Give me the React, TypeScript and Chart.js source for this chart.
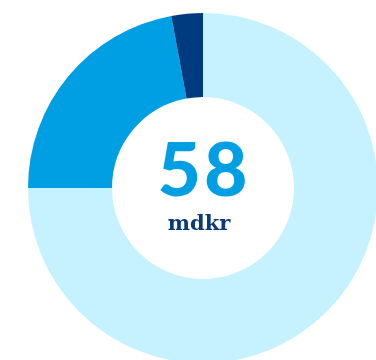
import React, { useEffect, useRef } from "react";
import { Chart, registerables } from "chart.js";

Chart.register(...registerables);

const labels = ["Övrigt", "Andel A", "Andel B"];
const values = [75, 22.1, 2.9];
const colors = ["#c6f1ff", "#009fe3", "#003b80"];
const centerValue = "58";
const centerUnit = "mdkr";

export default function App() {
  const ref = useRef<HTMLCanvasElement | null>(null);
  useEffect(() => {
    if (!ref.current) return;
    const chart = new Chart(ref.current, {
      type: "doughnut",
      data: {
        labels,
        datasets: [
          {
            data: values,
            backgroundColor: colors,
            borderWidth: 0,
            hoverOffset: 0,
          },
        ],
      },
      options: {
        responsive: false,
        animation: false,
        radius: 175,
        cutout: "52%",
        plugins: { legend: { display: false }, tooltip: { enabled: false } },
        layout: { padding: 0 },
      },
    });
    return () => chart.destroy();
  }, []);
  return (
    <div style={{ position: "fixed", left: 0, top: 0, width: 376, height: 360, overflow: "hidden", background: "#fff" }}>
      <canvas ref={ref} width={406} height={376} style={{ position: "absolute", left: 0, top: 0, width: 406, height: 376 }} />
      <div
        style={{
          position: "absolute",
          left: 104,
          width: 200,
          top: 123,
          textAlign: "center",
          fontFamily: "Lato, 'Open Sans', sans-serif",
          fontWeight: 900,
          fontSize: 75,
          letterSpacing: 3,
          lineHeight: "88px",
          color: "#009fe3",
        }}
      >
        {centerValue}
      </div>
      <div
        style={{
          position: "absolute",
          left: 99,
          width: 200,
          top: 209,
          textAlign: "center",
          fontFamily: "'DejaVu Serif', serif",
          fontWeight: 700,
          fontSize: 21,
          lineHeight: "28px",
          color: "#0a3a78",
        }}
      >
        {centerUnit}
      </div>
    </div>
  );
}
